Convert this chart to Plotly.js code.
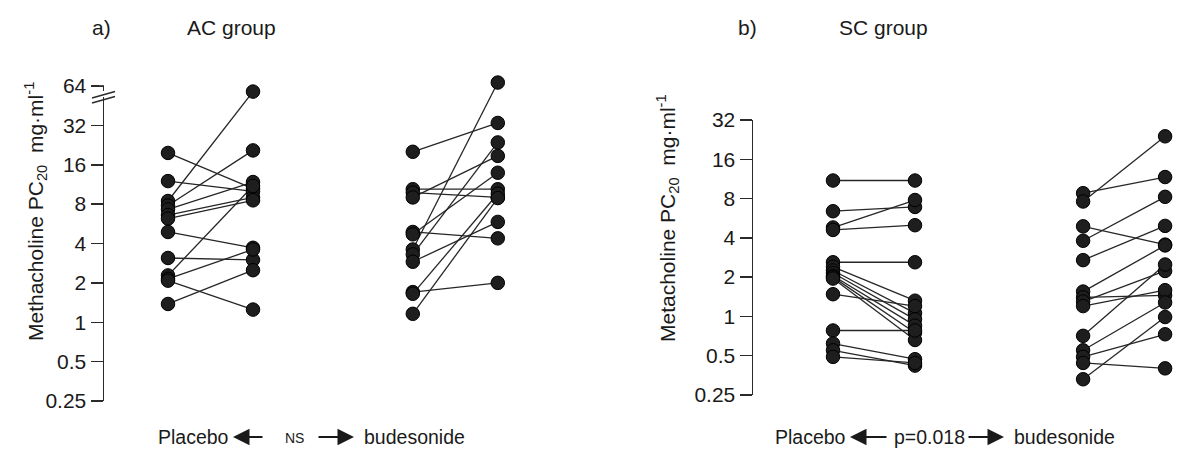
<!DOCTYPE html>
<html>
<head>
<meta charset="utf-8">
<script src="https://cdn.plot.ly/plotly-3.0.1.min.js"></script>
<style>
html,body{margin:0;padding:0;background:#fff;}
#chart{width:1192px;height:459px;}
</style>
</head>
<body>
<div id="chart"></div>
<script>
// ---- Data (Methacholine PC20, mg/ml) ----
// Panel a) AC group, first pair of columns
const placeboA1     = [19.7, 12.0, 8.45, 7.8, 7.3, 6.6, 6.2, 4.9, 3.1, 2.28, 2.15, 2.08, 1.38];
const budesonideA1  = [10.5, 10.0, 58,   20.6, 11.8, 9.0, 8.55, 3.71, 3.0, 11.0, 3.6, 1.25, 2.5];
// Panel a) AC group, second pair of columns
const placeboA2     = [20.1, 10.4, 9.8, 9.0, 4.9, 4.7, 3.6, 3.3, 2.9, 1.7, 1.65, 1.16];
const budesonideA2  = [33.4, 10.4, 9.0, 18.7, 4.38, 13.9, 68, 23.7, 5.85, 2.0, 9.6, 8.9];
// Panel b) SC group, first pair of columns
const placeboB1     = [11, 6.4, 4.8, 4.6, 2.6, 2.4, 2.25, 2.15, 2.05, 2.0, 1.95, 1.48, 0.78, 0.62, 0.55, 0.49];
const budesonideB1  = [11, 6.9, 7.8, 5.0, 2.6, 1.32, 1.06, 0.95, 0.85, 0.75, 0.66, 1.2, 0.78, 0.47, 0.42, 0.44];
// Panel b) SC group, second pair of columns
const placeboB2     = [8.8, 7.6, 4.9, 3.8, 2.7, 1.55, 1.4, 1.3, 1.2, 0.71, 0.55, 0.49, 0.44, 0.33];
const budesonideB2  = [11.7, 24, 3.55, 8.25, 4.94, 3.5, 1.45, 2.23, 1.59, 2.5, 1.28, 0.73, 0.40, 0.99];

const tickValsA = [0.25, 0.5, 1, 2, 4, 8, 16, 32, 64];
const tickTextA = ['0.25', '0.5', '1', '2', '4', '8', '16', '32', '64'];
const tickValsB = [0.25, 0.5, 1, 2, 4, 8, 16, 32];
const tickTextB = ['0.25', '0.5', '1', '2', '4', '8', '16', '32'];

const panelTitles = ['AC group', 'SC group'];
const panelLetters = ['a)', 'b)'];
const axisTitles = ['Methacholine PC<sub>20</sub>  mg·ml<sup>-1</sup>', 'Metacholine PC<sub>20</sub>  mg·ml<sup>-1</sup>'];
const compareLabels = ['NS', 'p=0.018'];
const leftLabel = 'Placebo';
const rightLabel = 'budesonide';

// ---- Layout helpers ----
const W = 1192, H = 459;
const px = x => x / W;
const py = y => 1 - y / H;
const FONT = 'Liberation Sans, Arial, Helvetica, sans-serif';

// panel a: 0.25 at y=401, 64 at y=86; extend the range a little above 64 so the top marker shows
const A_BOTTOM = 401, A_64 = 86;
const pxPerDecadeA = (A_BOTTOM - A_64) / (Math.log10(64) - Math.log10(0.25));
const A_TOPVAL = 80;
const A_TOP = A_64 - (Math.log10(A_TOPVAL) - Math.log10(64)) * pxPerDecadeA;

function pairTrace(pre, post, x0, x1, xa, ya) {
  const xs = [], ys = [];
  for (let i = 0; i < pre.length; i++) {
    xs.push(x0, x1, null);
    ys.push(pre[i], post[i], null);
  }
  return {
    type: 'scatter', mode: 'lines+markers', x: xs, y: ys, xaxis: xa, yaxis: ya,
    cliponaxis: false, hoverinfo: 'skip',
    line: {color: '#262626', width: 1.3},
    marker: {size: 13.5, color: '#1e1e1e', line: {color: '#000', width: 1}}
  };
}

const traces = [
  pairTrace(placeboA1, budesonideA1, 1, 2, 'x', 'y'),
  pairTrace(placeboA2, budesonideA2, 3.88, 4.88, 'x', 'y'),
  pairTrace(placeboB1, budesonideB1, 1, 2, 'x2', 'y2'),
  pairTrace(placeboB2, budesonideB2, 4.05, 5.05, 'x2', 'y2')
];

const yCommon = {
  type: 'log', showgrid: false, zeroline: false, showline: true,
  linecolor: '#2a2a2a', linewidth: 1.5, ticks: 'outside', ticklen: 12,
  tickwidth: 1.5, tickcolor: '#2a2a2a', tickmode: 'array',
  tickfont: {family: FONT, size: 21, color: '#1a1a1a'}, fixedrange: true
};
const xCommon = {
  showgrid: false, zeroline: false, showline: false, showticklabels: false,
  ticks: '', fixedrange: true
};

const ann = [];
function txt(text, x, y, size, xanchor, extra) {
  ann.push(Object.assign({
    text: text, xref: 'paper', yref: 'paper', x: px(x), y: py(y),
    xanchor: xanchor || 'center', yanchor: 'middle', showarrow: false,
    font: {family: FONT, size: size, color: '#1a1a1a'}
  }, extra || {}));
}
function arrow(headX, tailX, y) {
  ann.push({
    text: '', xref: 'paper', yref: 'paper', x: px(headX), y: py(y),
    ax: tailX - headX, ay: 0, axref: 'pixel', ayref: 'pixel',
    showarrow: true, arrowhead: 2, arrowsize: 1.5, arrowwidth: 2.2,
    arrowcolor: '#1a1a1a', standoff: 0, startstandoff: 0
  });
}

// titles
txt(panelLetters[0], 101, 27, 21);
txt(panelTitles[0], 231, 27, 21);
txt(panelLetters[1], 747, 27, 21);
txt(panelTitles[1], 883, 27, 21);
// axis titles
txt(axisTitles[0], 35, 212, 21, 'center', {textangle: -90});
txt(axisTitles[1], 668, 218, 21, 'center', {textangle: -90});
// bottom comparison labels
txt(leftLabel, 231, 437, 19.5, 'right');
arrow(233, 264, 437);
txt(compareLabels[0], 294, 438, 14);
arrow(354, 317, 437);
txt(rightLabel, 362, 437, 19.5, 'left');

txt(leftLabel, 848, 437, 19.5, 'right');
arrow(850, 888, 437);
txt(compareLabels[1], 929, 437, 19.5);
arrow(1004, 967, 437);
txt(rightLabel, 1012, 437, 19.5, 'left');

// axis break on panel a (and hide axis line above the 64 tick)
const shapes = [
  {type: 'rect', xref: 'paper', yref: 'paper', x0: px(99), x1: px(110), y0: py(85.2), y1: py(A_TOP - 2),
   fillcolor: '#fff', line: {width: 0}, layer: 'above'},
  {type: 'rect', xref: 'paper', yref: 'paper', x0: px(99), x1: px(110), y0: py(97), y1: py(91),
   fillcolor: '#fff', line: {width: 0}, layer: 'above'},
  {type: 'line', xref: 'paper', yref: 'paper', x0: px(92), y0: py(98), x1: px(115), y1: py(91.5),
   line: {color: '#2a2a2a', width: 1.4}, layer: 'above'},
  {type: 'line', xref: 'paper', yref: 'paper', x0: px(92), y0: py(103), x1: px(115), y1: py(96.5),
   line: {color: '#2a2a2a', width: 1.4}, layer: 'above'}
];

const layout = {
  width: W, height: H,
  margin: {l: 0, r: 0, t: 0, b: 0, pad: 0},
  paper_bgcolor: '#fff', plot_bgcolor: 'rgba(0,0,0,0)',
  showlegend: false,
  font: {family: FONT, color: '#1a1a1a'},
  xaxis: Object.assign({}, xCommon, {domain: [px(104), px(545)], range: [1 - 64/85, 1 + 377/85], anchor: 'y'}),
  yaxis: Object.assign({}, yCommon, {domain: [py(A_BOTTOM), py(A_TOP)], range: [Math.log10(0.25), Math.log10(A_TOPVAL)],
    tickvals: tickValsA, ticktext: tickTextA, anchor: 'x'}),
  xaxis2: Object.assign({}, xCommon, {domain: [px(753), 1], range: [1 - 80/82, 1 + (1192 - 833)/82], anchor: 'y2'}),
  yaxis2: Object.assign({}, yCommon, {domain: [py(395), py(120)], range: [Math.log10(0.25), Math.log10(32)],
    tickvals: tickValsB, ticktext: tickTextB, anchor: 'x2'}),
  annotations: ann,
  shapes: shapes
};

Plotly.newPlot('chart', traces, layout, {staticPlot: true, displayModeBar: false});
</script>
</body>
</html>
